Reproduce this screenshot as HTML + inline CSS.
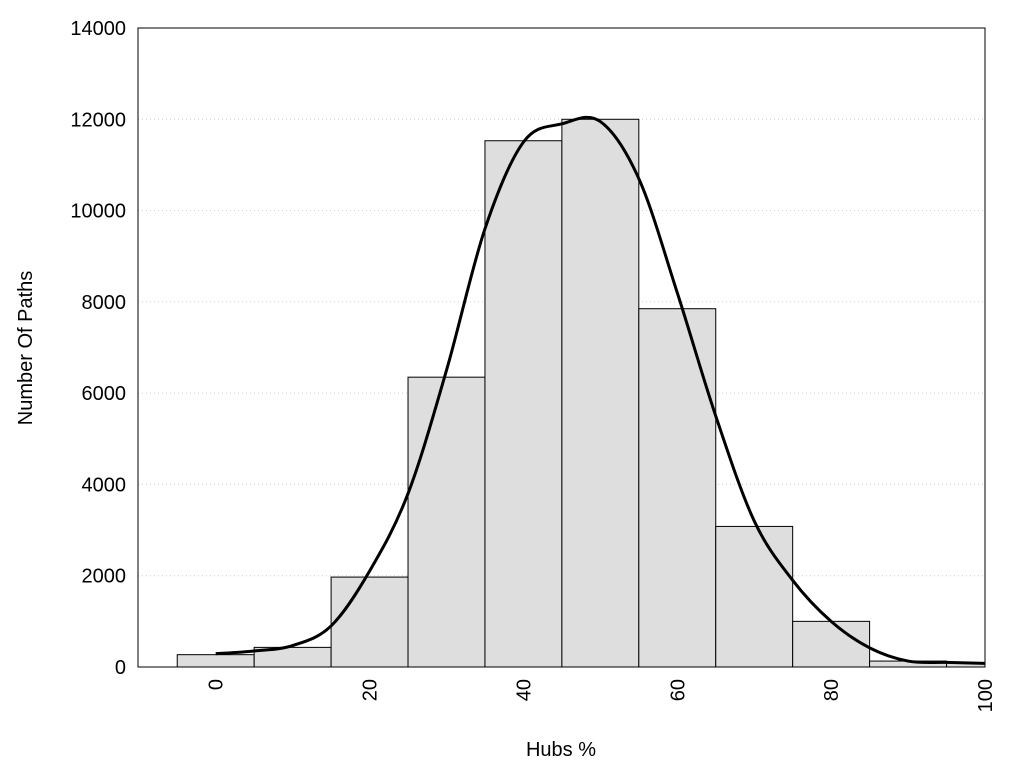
<!DOCTYPE html>
<html><head><meta charset="utf-8"><style>
body{margin:0;background:#fff;font-family:"Liberation Sans",Arial,sans-serif}
</style></head><body>
<svg id="chart" width="1024" height="768" xmlns="http://www.w3.org/2000/svg" font-family="Liberation Sans, Arial, sans-serif">
<g id="grid"></g><g id="bars"></g><g id="curve"></g><g id="axes"></g>
</svg>
<script>
const binCenters=[0,10,20,30,40,50,60,70,80,90,100];
const binCounts=[270,430,1970,6350,11530,12000,7850,3080,1000,130,90];
const curveX=[0,5,10,15,20,25,30,35,40,45,50,55,60,65,70,75,80,85,90,95,100];
const curveY=[290,350,470,900,2100,3800,6500,9600,11500,11900,11950,10700,8200,5500,3200,1900,1000,420,130,100,80];
const yTicks=[0,2000,4000,6000,8000,10000,12000,14000];
const xTicks=[0,20,40,60,80,100];
const L=138,R=985,T=28,B=667,xMin=-10.1,xMax=100,yMax=14000;
const sx=v=>L+(v-xMin)/(xMax-xMin)*(R-L);
const sy=v=>B-v/yMax*(B-T);
const NS="http://www.w3.org/2000/svg";
function mk(p,tag,a){const e=document.createElementNS(NS,tag);for(const k in a)e.setAttribute(k,a[k]);p.appendChild(e);return e;}
const grid=document.getElementById('grid'),bars=document.getElementById('bars'),curve=document.getElementById('curve'),axes=document.getElementById('axes');
yTicks.forEach(t=>{if(t>0&&t<yMax){const l=mk(grid,'line',{x1:L,x2:R,y1:sy(t),y2:sy(t),stroke:'#ccc','stroke-dasharray':'1,3'});

}
const tx=mk(axes,'text',{x:L-12,y:sy(t)+7,'text-anchor':'end','font-size':20});tx.textContent=t;

});
binCenters.forEach((c,i)=>{const x0=Math.max(sx(c-5),L),x1=Math.min(sx(c+5),R);
const r=mk(bars,'rect',{x:x0,y:sy(binCounts[i]),width:x1-x0,height:B-sy(binCounts[i]),fill:'#dedede',stroke:'#000','stroke-width':1});

});
const P=curveX.map((x,i)=>[sx(x),sy(curveY[i])]);
let d='M'+P[0][0]+','+P[0][1];
for(let i=0;i<P.length-1;i++){const p0=P[Math.max(i-1,0)],p1=P[i],p2=P[i+1],p3=P[Math.min(i+2,P.length-1)];
d+=` C${p1[0]+(p2[0]-p0[0])/6},${p1[1]+(p2[1]-p0[1])/6} ${p2[0]-(p3[0]-p1[0])/6},${p2[1]-(p3[1]-p1[1])/6} ${p2[0]},${p2[1]}`;}
const cp=mk(curve,'path',{d:d,fill:'none',stroke:'#000','stroke-width':3});


const fr=mk(axes,'rect',{x:L,y:T,width:R-L,height:B-T,fill:'none',stroke:'#000','stroke-width':1});


xTicks.forEach(t=>{const x=sx(t);
const tx=mk(axes,'text',{x:0,y:0,'text-anchor':'end','font-size':20,transform:`translate(${x+7},${B+12}) rotate(-90)`});tx.textContent=t;

});
const xt=mk(axes,'text',{x:561,y:756,'text-anchor':'middle','font-size':20});xt.textContent='Hubs %';


const yt=mk(axes,'text',{x:0,y:0,'text-anchor':'middle','font-size':20,transform:'translate(32,348) rotate(-90)'});yt.textContent='Number Of Paths';


</script>
</body></html>
